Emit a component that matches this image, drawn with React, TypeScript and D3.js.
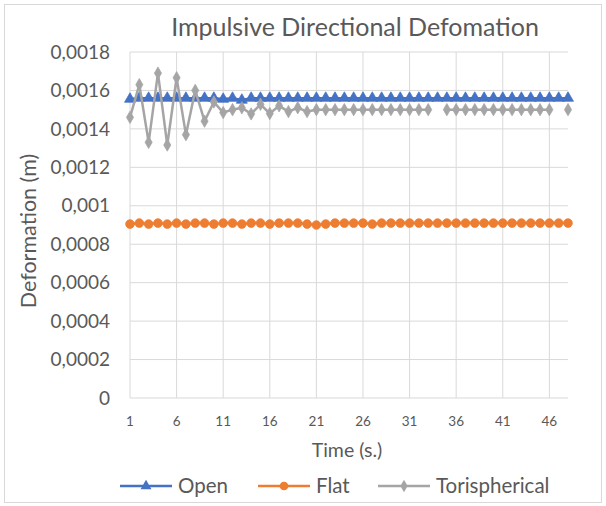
import * as d3 from 'd3';

const times = [
  1, 2, 3, 4, 5, 6, 7, 8, 9, 10, 11, 12, 13, 14, 15, 16, 17, 18, 19, 20, 21, 22, 23, 24,
  25, 26, 27, 28, 29, 30, 31, 32, 33, 34, 35, 36, 37, 38, 39, 40, 41, 42, 43, 44, 45, 46, 47, 48,
];
const tickTimes = [1, 6, 11, 16, 21, 26, 31, 36, 41, 46];

const openVals = [
  0.001555, 0.00156, 0.00156, 0.00156, 0.00156, 0.00156, 0.00156, 0.00156, 0.00156, 0.00156,
  0.001555, 0.00156, 0.00155, 0.00156, 0.00156, 0.00156, 0.00156, 0.00156, 0.00156, 0.00156,
  0.00156, 0.00156, 0.00156, 0.00156, 0.00156, 0.00156, 0.00156, 0.00156, 0.00156, 0.00156,
  0.00156, 0.00156, 0.00156, 0.00156, 0.00156, 0.00156, 0.00156, 0.00156, 0.00156, 0.00156,
  0.00156, 0.00156, 0.00156, 0.00156, 0.00156, 0.00156, 0.00156, 0.00156,
];
const flatVals = [
  0.000905, 0.00091, 0.000905, 0.00091, 0.000905, 0.00091, 0.000905, 0.00091, 0.00091, 0.000905,
  0.00091, 0.00091, 0.000905, 0.00091, 0.00091, 0.000905, 0.00091, 0.00091, 0.00091, 0.000905,
  0.0009, 0.000905, 0.00091, 0.00091, 0.00091, 0.00091, 0.000905, 0.00091, 0.00091, 0.00091,
  0.00091, 0.00091, 0.00091, 0.00091, 0.00091, 0.00091, 0.00091, 0.00091, 0.00091, 0.00091,
  0.00091, 0.00091, 0.00091, 0.00091, 0.00091, 0.00091, 0.00091, 0.00091,
];
const torisVals: (number | null)[] = [
  0.00146, 0.00163, 0.00133, 0.00169, 0.001316, 0.001666, 0.00137, 0.0016, 0.00144, 0.00154,
  0.001485, 0.0015, 0.00151, 0.001478, 0.001528, 0.00148, 0.00152, 0.00149, 0.00151, 0.00149,
  0.0015, 0.0015, 0.0015, 0.0015, 0.0015, 0.0015, 0.0015, 0.0015, 0.0015, 0.0015,
  0.0015, 0.0015, 0.0015, null, 0.0015, 0.0015, 0.0015, 0.0015, 0.0015, 0.0015,
  0.0015, 0.0015, 0.0015, 0.0015, 0.0015, 0.0015, null, 0.0015,
];

const yTicks = [0, 0.0002, 0.0004, 0.0006, 0.0008, 0.001, 0.0012, 0.0014, 0.0016, 0.0018];
const yTickLabels = ['0', '0,0002', '0,0004', '0,0006', '0,0008', '0,001', '0,0012', '0,0014', '0,0016', '0,0018'];

const BLUE = '#4472C4';
const ORANGE = '#ED7D31';
const GRAY = '#A5A5A5';
const GRID = '#d9d9d9';
const TEXT = '#595959';
const FONT = "Lato, sans-serif";

const W = 606;
const H = 506;
const plot = { left: 130, right: 568, top: 52, bottom: 398 };

const x = d3.scalePoint<number>().domain(times).range([plot.left, plot.right]);
const y = d3.scaleLinear().domain([0, 0.0018]).range([plot.bottom, plot.top]);

const triangle = d3.symbol().type(d3.symbolTriangle).size(52)();
const circle = d3.symbol().type(d3.symbolCircle).size(60)();
const diamond = d3.symbol().type(d3.symbolDiamond).size(44)();

function linePath(vals: (number | null)[]) {
  return d3
    .line<number | null>()
    .defined((d) => d != null)
    .x((_, i) => x(times[i])!)
    .y((d) => y(d as number))(vals) ?? '';
}

function Series({ vals, color, marker, width }: { vals: (number | null)[]; color: string; marker: string; width: number }) {
  return (
    <g>
      <path d={linePath(vals)} fill="none" stroke={color} strokeWidth={width} strokeLinejoin="round" />
      {vals.map((v, i) =>
        v == null ? null : (
          <path key={i} d={marker} transform={`translate(${x(times[i])},${y(v)})`} fill={color} stroke={color} strokeWidth={0.75} />
        ),
      )}
    </g>
  );
}

function LegendItem({ x0, label, color, marker }: { x0: number; label: string; color: string; marker: string }) {
  const ly = 486;
  return (
    <g>
      <line x1={x0} x2={x0 + 52} y1={ly} y2={ly} stroke={color} strokeWidth={2.5} />
      <path d={marker} transform={`translate(${x0 + 26},${ly})`} fill={color} />
      <text x={x0 + 58} y={ly} dy="0.35em" fontSize={20.5} fill={TEXT} fontFamily={FONT}>
        {label}
      </text>
    </g>
  );
}

export default function App() {
  return (
    <div style={{ position: 'fixed', left: 0, top: 0 }}>
      <svg width={W} height={H} style={{ display: 'block', background: '#fff' }}>
        <rect x={4.5} y={4.5} width={597} height={498} fill="#fff" stroke={GRID} />

        {/* gridlines */}
        {yTicks.map((t) => (
          <line key={t} x1={plot.left} x2={plot.right} y1={y(t)} y2={y(t)} stroke={GRID} strokeWidth={1} />
        ))}
        {tickTimes.map((t) => (
          <line key={t} x1={x(t)} x2={x(t)} y1={plot.top} y2={plot.bottom} stroke={GRID} strokeWidth={1} />
        ))}

        {/* axis labels */}
        {yTicks.map((t, i) => (
          <text key={t} x={110} y={y(t)} dy="0.35em" textAnchor="end" fontSize={19} fill={TEXT} fontFamily={FONT}>
            {yTickLabels[i]}
          </text>
        ))}
        {tickTimes.map((t) => (
          <text key={t} x={x(t)} y={421} dy="0.35em" textAnchor="middle" fontSize={13.5} fill={TEXT} fontFamily={FONT}>
            {t}
          </text>
        ))}

        <text x={347} y={450} dy="0.35em" textAnchor="middle" fontSize={19.5} fill={TEXT} fontFamily={FONT}>
          Time (s.)
        </text>
        <text
          transform={`translate(28,${(plot.top + plot.bottom) / 2 + 6}) rotate(-90)`}
          dy="0.35em"
          textAnchor="middle"
          fontSize={21.5}
          fill={TEXT}
          fontFamily={FONT}
        >
          Deformation (m)
        </text>
        <text x={355} y={27} dy="0.35em" textAnchor="middle" fontSize={25} fill={TEXT} fontFamily={FONT}>
          Impulsive Directional Defomation
        </text>

        {/* series */}
        <Series vals={openVals} color={BLUE} marker={triangle} width={2.5} />
        <Series vals={flatVals} color={ORANGE} marker={circle} width={2.5} />
        <Series vals={torisVals} color={GRAY} marker={diamond} width={2.5} />

        {/* legend */}
        <LegendItem x0={120} label="Open" color={BLUE} marker={triangle} />
        <LegendItem x0={258} label="Flat" color={ORANGE} marker={circle} />
        <LegendItem x0={378} label="Torispherical" color={GRAY} marker={diamond} />
      </svg>
    </div>
  );
}
